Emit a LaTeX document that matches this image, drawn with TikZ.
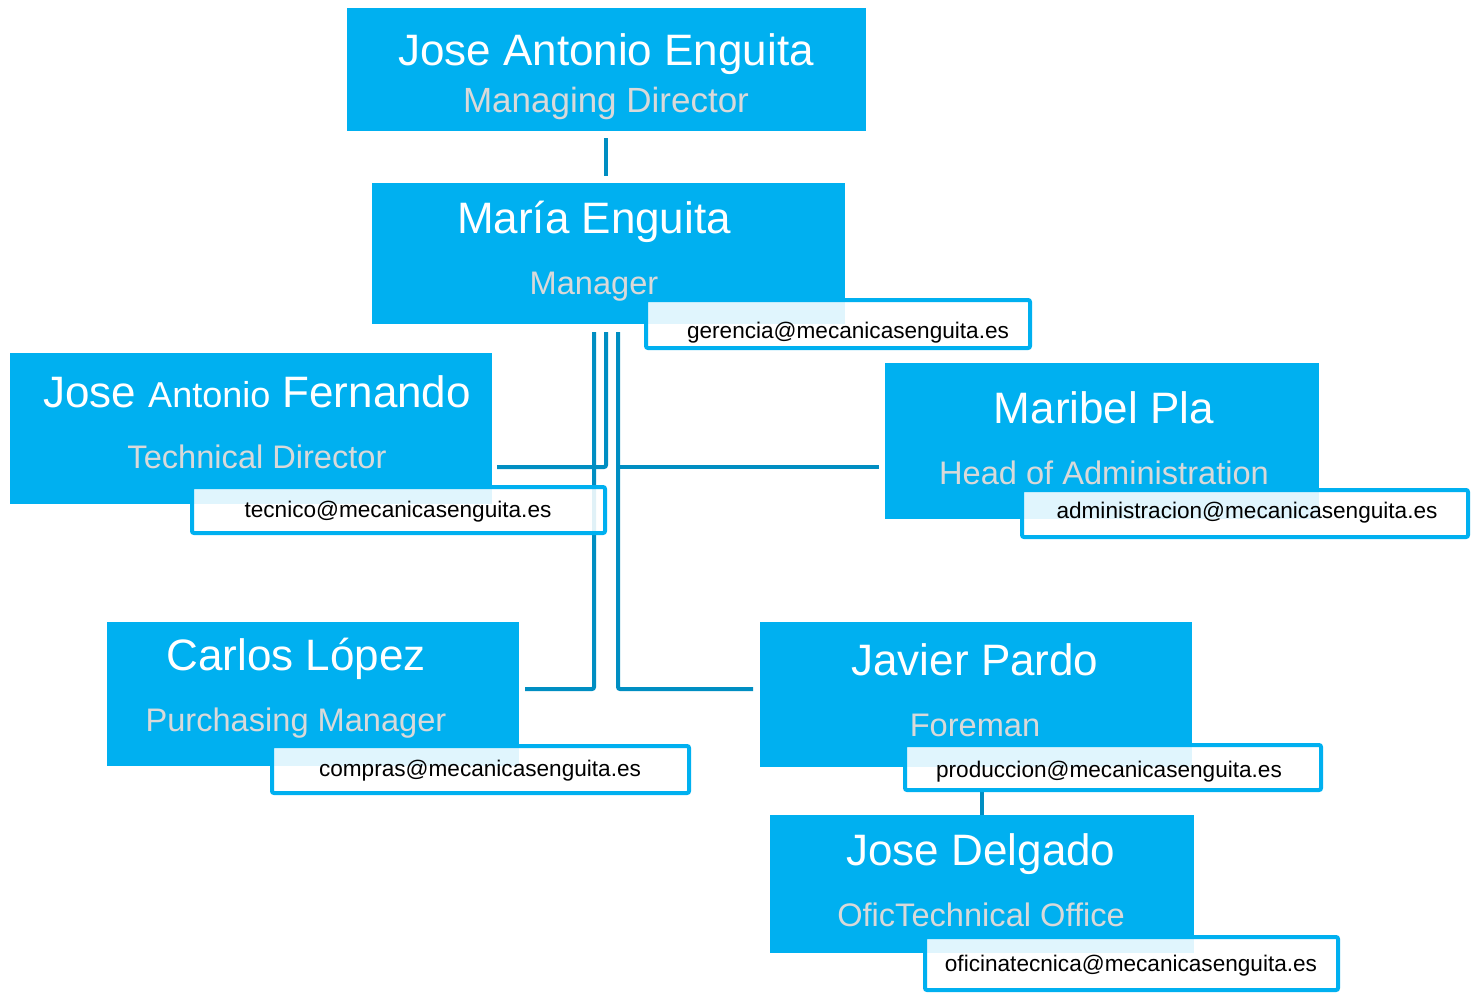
\documentclass[tikz,border=0pt]{standalone}
\usepackage{fontspec}
\setmainfont{Liberation Sans}
\definecolor{boxblue}{HTML}{00B0F0}
\definecolor{lineblue}{HTML}{008EC2}
\definecolor{subgrey}{HTML}{D9D9D9}
\begin{document}
\begin{tikzpicture}[x=1pt,y=-1pt,
  box/.style={fill=boxblue, draw=none, inner sep=0pt, outer sep=0pt, anchor=north west},
  mail/.style={draw=boxblue, line width=4pt, rounded corners=2pt, fill=white, fill opacity=0.88, inner sep=0pt, outer sep=0pt, anchor=north west},
  ttl/.style={text=white, font=\fontsize{44}{50}\selectfont, anchor=base, inner sep=0pt},
  sub/.style={text=subgrey, font=\fontsize{32.6}{38}\selectfont, anchor=base, inner sep=0pt},
  mailtext/.style={text=black, font=\fontsize{22.6}{26}\selectfont, anchor=base, inner sep=0pt},
  conn/.style={draw=lineblue, line width=4pt, rounded corners=2pt}]
\useasboundingbox (0,0) rectangle (1472,993);

% connector end points
\coordinate (a1) at (606,138);
\coordinate (a2) at (606,176);
\coordinate (s1) at (606,332);
\coordinate (s2) at (618,332);
\coordinate (s3) at (594,332);
\coordinate (j1) at (618,467);
\coordinate (e3) at (497,467);
\coordinate (e4) at (879,467);
\coordinate (e5) at (525,689);
\coordinate (e6) at (753,689);
\coordinate (p1) at (982,792);
\coordinate (p2) at (982,816);

% connectors
\draw[conn] (a1) -- (a2);
\draw[conn] (s1) |- (e3);
\draw[conn] (s2) |- (e6);
\draw[conn] (j1) -- (e4);
\draw[conn] (s3) |- (e5);
\draw[conn] (p1) -- (p2);

% blue boxes
\node[box, minimum width=519pt, minimum height=123pt] (b1) at (347,8) {};
\node[box, minimum width=473pt, minimum height=141pt] (b2) at (372,183) {};
\node[box, minimum width=482pt, minimum height=151pt] (b3) at (10,353) {};
\node[box, minimum width=434pt, minimum height=156pt] (b4) at (885,363) {};
\node[box, minimum width=412pt, minimum height=144pt] (b5) at (107,622) {};
\node[box, minimum width=432pt, minimum height=145pt] (b6) at (760,622) {};
\node[box, minimum width=424pt, minimum height=138pt] (b7) at (770,815) {};

% mail boxes
\node[mail, minimum width=384pt, minimum height=48pt] (m2) at (646,300) {};
\node[mail, minimum width=413pt, minimum height=46pt] (m3) at (192,487) {};
\node[mail, minimum width=446pt, minimum height=47pt] (m4) at (1022,490) {};
\node[mail, minimum width=417pt, minimum height=47pt] (m5) at (272,746) {};
\node[mail, minimum width=416pt, minimum height=45pt] (m6) at (905,745) {};
\node[mail, minimum width=413pt, minimum height=53pt] (m7) at (925,937) {};

% titles
\node[ttl] (t1) at (606,65) {Jose Antonio Enguita};
\node[sub, font=\fontsize{35}{40}\selectfont] (u1) at (606,112) {Managing Director};
\node[ttl] (t2) at (594,233) {María Enguita};
\node[sub] (u2) at (594,294) {Manager};
\node[ttl] (t3) at (257,407) {Jose {\fontsize{36}{40}\selectfont Antonio} Fernando};
\node[sub] (u3) at (257,468) {Technical Director};
\node[ttl] (t4) at (1104,423) {Maribel Pla};
\node[sub] (u4) at (1104,484) {Head of Administration};
\node[ttl] (t5) at (296,670) {Carlos López};
\node[sub] (u5) at (296,731) {Purchasing Manager};
\node[ttl] (t6) at (975,675) {Javier Pardo};
\node[sub] (u6) at (975,736) {Foreman};
\node[ttl] (t7) at (981,865) {Jose Delgado};
\node[sub] (u7) at (981,926) {OficTechnical Office};

% mail texts
\node[mailtext] (x2) at (848,338) {gerencia@mecanicasenguita.es};
\node[mailtext] (x3) at (398,517) {tecnico@mecanicasenguita.es};
\node[mailtext] (x4) at (1247,518) {administracion@mecanicasenguita.es};
\node[mailtext] (x5) at (480,776) {compras@mecanicasenguita.es};
\node[mailtext] (x6) at (1109,777) {produccion@mecanicasenguita.es};
\node[mailtext] (x7) at (1131,971) {oficinatecnica@mecanicasenguita.es};
\end{tikzpicture}
\end{document}
